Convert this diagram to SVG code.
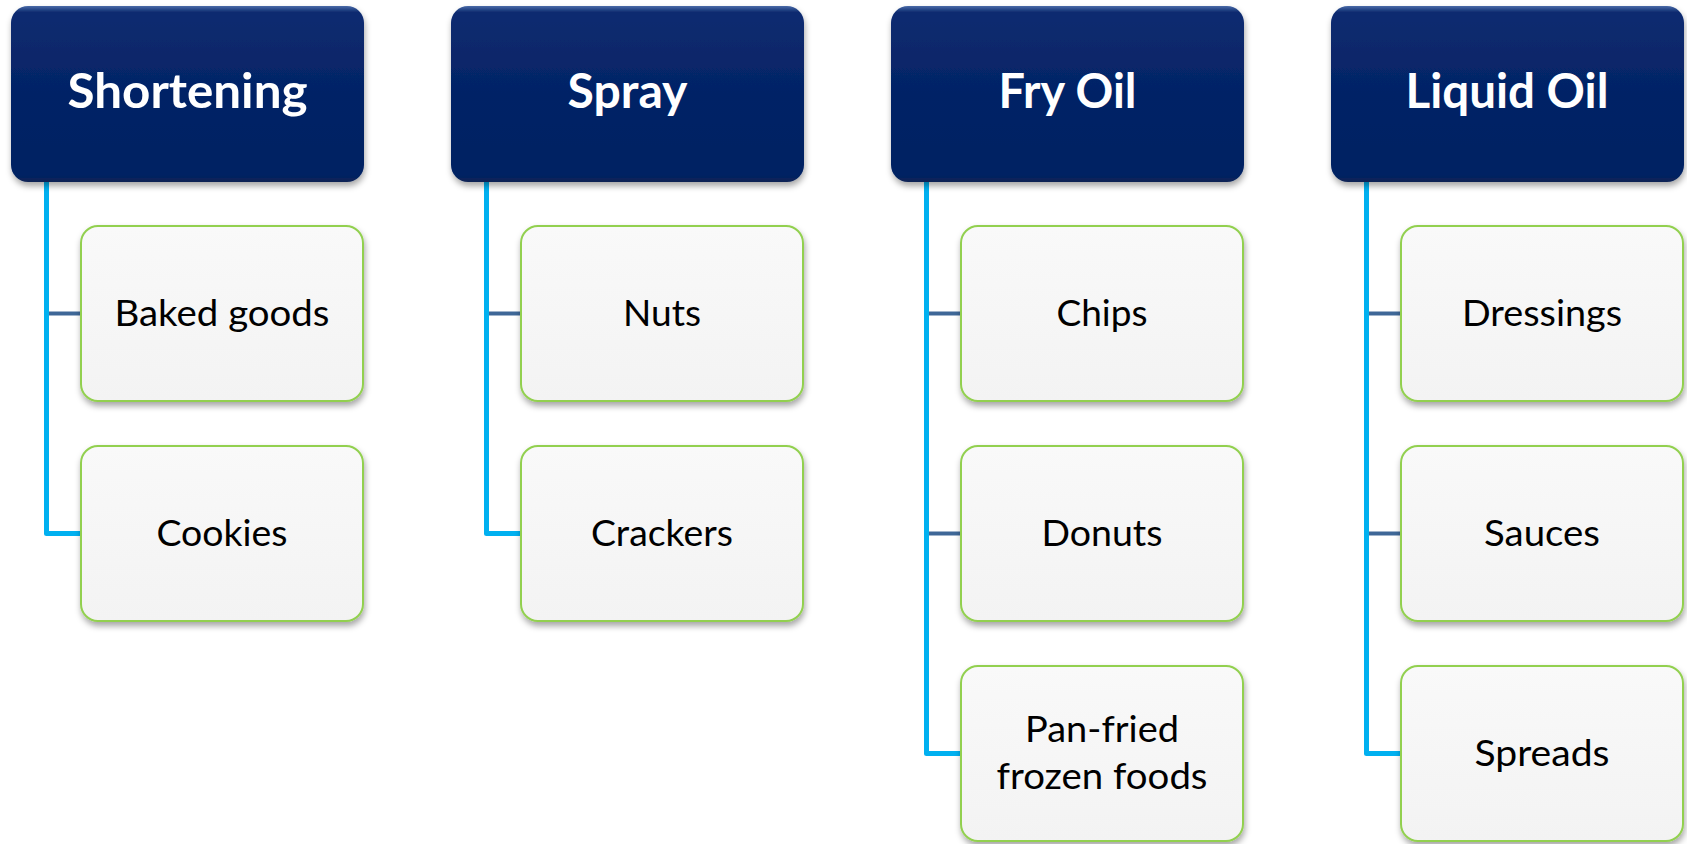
<svg xmlns="http://www.w3.org/2000/svg" width="1687" height="844" viewBox="0 0 1687 844">
<defs>
<linearGradient id="hdrGrad" x1="0" y1="0" x2="0" y2="1">
<stop offset="0" stop-color="#4a6aa8"/>
<stop offset="0.035" stop-color="#0d2c70"/>
<stop offset="0.5" stop-color="#042366"/>
<stop offset="0.96" stop-color="#042263"/>
<stop offset="1" stop-color="#0a2254"/>
</linearGradient>
<linearGradient id="boxGrad" x1="0" y1="0" x2="0" y2="1">
<stop offset="0" stop-color="#f9f9f9"/>
<stop offset="1" stop-color="#f3f3f3"/>
</linearGradient>
<filter id="shadow" x="-10%" y="-10%" width="120%" height="130%">
<feDropShadow dx="1" dy="4" stdDeviation="3" flood-color="#000" flood-opacity="0.35"/>
</filter>
</defs>
<style>
.hdr{fill:url(#hdrGrad);filter:url(#shadow)}
.box{fill:url(#boxGrad);stroke:#92d050;stroke-width:2;filter:url(#shadow)}
.ht{font-family:Lato,"Open Sans",sans-serif;font-weight:bold;font-size:47px;fill:#ffffff;text-anchor:middle}
.bt{font-family:Lato,"Open Sans",sans-serif;font-size:37px;fill:#000000;text-anchor:middle}
.vline{fill:none;stroke:#00b0f0;stroke-width:5;stroke-linejoin:round}
.branch{fill:none;stroke:#3e6797;stroke-width:4}
</style>
<g id="connectors">
<path class="branch" d="M49,313.5H81"/>
<path class="vline" d="M46.5,182V533.5H81"/>
<path class="branch" d="M489,313.5H521"/>
<path class="vline" d="M486.5,182V533.5H521"/>
<path class="branch" d="M929,313.5H961"/>
<path class="branch" d="M929,533.5H961"/>
<path class="vline" d="M926.5,182V753.5H961"/>
<path class="branch" d="M1369,313.5H1401"/>
<path class="branch" d="M1369,533.5H1401"/>
<path class="vline" d="M1366.5,182V753.5H1401"/>
</g>
<g id="shortening">
<rect class="hdr" x="11" y="6" width="353" height="176" rx="17"/>
<text class="ht" x="187.5" y="108" textLength="240" lengthAdjust="spacingAndGlyphs">Shortening</text>
</g>
<g id="baked-goods">
<rect class="box" x="81" y="226" width="282" height="175" rx="17"/>
<text class="bt" x="222" y="325.5" textLength="215" lengthAdjust="spacingAndGlyphs">Baked goods</text>
</g>
<g id="cookies">
<rect class="box" x="81" y="446" width="282" height="175" rx="17"/>
<text class="bt" x="222" y="545.5" textLength="131" lengthAdjust="spacingAndGlyphs">Cookies</text>
</g>
<g id="spray">
<rect class="hdr" x="451" y="6" width="353" height="176" rx="17"/>
<text class="ht" x="627.5" y="108" textLength="120" lengthAdjust="spacingAndGlyphs">Spray</text>
</g>
<g id="nuts">
<rect class="box" x="521" y="226" width="282" height="175" rx="17"/>
<text class="bt" x="662" y="325.5" textLength="78" lengthAdjust="spacingAndGlyphs">Nuts</text>
</g>
<g id="crackers">
<rect class="box" x="521" y="446" width="282" height="175" rx="17"/>
<text class="bt" x="662" y="545.5" textLength="142" lengthAdjust="spacingAndGlyphs">Crackers</text>
</g>
<g id="fry-oil">
<rect class="hdr" x="891" y="6" width="353" height="176" rx="17"/>
<text class="ht" x="1067.5" y="108" textLength="138" lengthAdjust="spacingAndGlyphs">Fry Oil</text>
</g>
<g id="chips">
<rect class="box" x="961" y="226" width="282" height="175" rx="17"/>
<text class="bt" x="1102" y="325.5" textLength="91" lengthAdjust="spacingAndGlyphs">Chips</text>
</g>
<g id="donuts">
<rect class="box" x="961" y="446" width="282" height="175" rx="17"/>
<text class="bt" x="1102" y="545.5" textLength="121" lengthAdjust="spacingAndGlyphs">Donuts</text>
</g>
<g id="pan-fried">
<rect class="box" x="961" y="666" width="282" height="175" rx="17"/>
<text class="bt" x="1102" y="742" textLength="154" lengthAdjust="spacingAndGlyphs">Pan-fried</text>
<text class="bt" x="1102" y="788.5" textLength="211" lengthAdjust="spacingAndGlyphs">frozen foods</text>
</g>
<g id="liquid-oil">
<rect class="hdr" x="1331" y="6" width="353" height="176" rx="17"/>
<text class="ht" x="1507" y="108" textLength="203" lengthAdjust="spacingAndGlyphs">Liquid Oil</text>
</g>
<g id="dressings">
<rect class="box" x="1401" y="226" width="282" height="175" rx="17"/>
<text class="bt" x="1542" y="325.5" textLength="160" lengthAdjust="spacingAndGlyphs">Dressings</text>
</g>
<g id="sauces">
<rect class="box" x="1401" y="446" width="282" height="175" rx="17"/>
<text class="bt" x="1542" y="545.5" textLength="116" lengthAdjust="spacingAndGlyphs">Sauces</text>
</g>
<g id="spreads">
<rect class="box" x="1401" y="666" width="282" height="175" rx="17"/>
<text class="bt" x="1542" y="765.5" textLength="135" lengthAdjust="spacingAndGlyphs">Spreads</text>
</g>
</svg>
